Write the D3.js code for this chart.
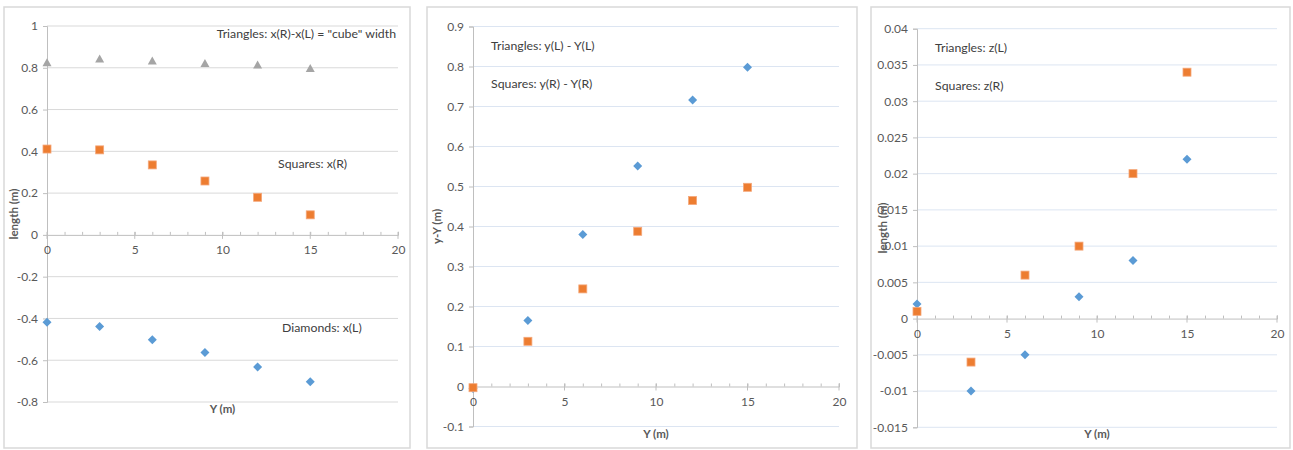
<!DOCTYPE html>
<html>
<head>
<meta charset="utf-8">
<script src="https://cdn.jsdelivr.net/npm/d3@7"></script>
<style>
body{margin:0;background:#fff;}
text{font-family:Lato,"Liberation Sans",sans-serif;}
</style>
</head>
<body>
<div id="chart"></div>
<script>
// x positions (Y in m), same for every panel
var yPos=[0,3,6,9,12,15];
var xTicks=[0,5,10,15,20];

// panel 1 : x coordinates
var cubeWidth=[0.824,0.842,0.833,0.82,0.813,0.797];
var xRight=[0.411,0.407,0.335,0.258,0.18,0.096];
var xLeft=[-0.418,-0.439,-0.502,-0.563,-0.632,-0.703];
var p1Ticks=[-0.8,-0.6,-0.4,-0.2,0,0.2,0.4,0.6,0.8,1];

// panel 2 : y - Y
var yLeftDiff=[-0.005,0.165,0.38,0.551,0.716,0.798];
var yRightDiff=[-0.003,0.113,0.244,0.388,0.465,0.498];
var p2Ticks=[-0.1,0,0.1,0.2,0.3,0.4,0.5,0.6,0.7,0.8,0.9];

// panel 3 : z
var zLeft=[0.002,-0.01,-0.005,0.003,0.008,0.022];
var zRight=[0.001,-0.006,0.006,0.01,0.02,0.034];
var p3Ticks=[-0.015,-0.01,-0.005,0,0.005,0.01,0.015,0.02,0.025,0.03,0.035,0.04];

var svg=d3.select("#chart").append("svg").attr("width",1293).attr("height",450);

var panels=[
	{frame:[4,7,406,441],x0:47,x1:398,yTop:26,yBot:402,ticks:p1Ticks,grid:"#d9d9d9",
	 ytitle:"length (m)",ytx:14,xty:413,
	 series:[{v:cubeWidth,shape:"tri"},{v:xRight,shape:"sq"},{v:xLeft,shape:"dia"}],
	 notes:[{t:"Triangles: x(R)-x(L) = \"cube\" width",x:396,y:38,a:"end"},{t:"Squares: x(R)",x:278,y:168,a:"start"},{t:"Diamonds: x(L)",x:282,y:332,a:"start"}]},
	{frame:[427,7,430,441],x0:473,x1:839,yTop:26.5,yBot:426.5,ticks:p2Ticks,grid:"#dce5f2",
	 ytitle:"y-Y (m)",ytx:437,xty:438,
	 series:[{v:yLeftDiff,shape:"dia"},{v:yRightDiff,shape:"sq"}],
	 notes:[{t:"Triangles: y(L) - Y(L)",x:491,y:50,a:"start"},{t:"Squares: y(R) - Y(R)",x:491,y:88,a:"start"}]},
	{frame:[871,7,419,441],x0:917,x1:1277,yTop:28.7,yBot:427.3,ticks:p3Ticks,grid:"#dce5f2",
	 ytitle:"length (m)",ytx:883,xty:438,
	 series:[{v:zLeft,shape:"dia"},{v:zRight,shape:"sq"}],
	 notes:[{t:"Triangles: z(L)",x:935,y:52,a:"start"},{t:"Squares: z(R)",x:935,y:90,a:"start"}]}
];

var colors={tri:"#a5a5a5",sq:"#ed7d31",dia:"#5b9bd5"};
var fmt=function(d){return String(+d.toFixed(4));};

panels.forEach(function(p){
	var g=svg.append("g");
	g.append("rect").attr("x",p.frame[0]).attr("y",p.frame[1]).attr("width",p.frame[2]).attr("height",p.frame[3])
		.attr("fill","#fff").attr("stroke","#d9d9d9").attr("stroke-width",1.5); //chart border

	var x=d3.scaleLinear().domain([0,20]).range([p.x0,p.x1]);
	var y=d3.scaleLinear().domain(d3.extent(p.ticks)).range([p.yBot,p.yTop]);

	// gridlines
	g.selectAll(".grid").data(p.ticks.filter(function(d){return d!==0;})).enter().append("line")
		.attr("x1",x(0)).attr("x2",x(20)).attr("y1",function(d){return y(d);}).attr("y2",function(d){return y(d);})
		.attr("stroke",p.grid).attr("stroke-width",1);

	// y axis
	var ya=g.append("g").attr("transform","translate("+x(0)+",0)")
		.call(d3.axisLeft(y).tickValues(p.ticks).tickFormat(fmt).tickSize(4).tickPadding(5));
	ya.select(".domain").attr("stroke","#bfbfbf");
	ya.selectAll(".tick line").attr("stroke","#bfbfbf");
	ya.selectAll(".tick text").attr("fill","#595959").style("font-size","12px").style("font-family","Lato,'Liberation Sans',sans-serif");

	// x axis on the zero line, minor ticks each unit
	var xa=g.append("g").attr("transform","translate(0,"+y(0)+")")
		.call(d3.axisBottom(x).tickValues(d3.range(0,21)).tickSize(-3).tickPadding(11)
			.tickFormat(function(d){return d%5===0?d:"";}));
	xa.select(".domain").attr("stroke","#bfbfbf");
	xa.selectAll(".tick line").attr("stroke","#bfbfbf");
	xa.selectAll(".tick text").attr("fill","#595959").style("font-size","12px").style("font-family","Lato,'Liberation Sans',sans-serif");
	xa.selectAll(".major").data(xTicks).enter().append("line")
		.attr("x1",function(d){return x(d);}).attr("x2",function(d){return x(d);})
		.attr("y1",-3).attr("y2",4).attr("stroke","#bfbfbf");

	// titles
	g.append("text").attr("x",(p.x0+p.x1)/2).attr("y",p.xty).attr("text-anchor","middle")
		.attr("font-size",11.5).attr("font-weight","bold").attr("fill","#595959").text("Y (m)");
	g.append("text").attr("transform","translate("+p.ytx+","+(p.yTop+p.yBot)/2+") rotate(-90)")
		.attr("text-anchor","middle").attr("dy","0.35em")
		.attr("font-size",11.5).attr("font-weight","bold").attr("fill","#595959").text(p.ytitle);

	// notes
	p.notes.forEach(function(n){
		g.append("text").attr("x",n.x).attr("y",n.y).attr("text-anchor",n.a)
			.attr("font-size",12.3).attr("fill","#404040").text(n.t);
	});

	// markers
	p.series.forEach(function(s){
		var pts=yPos.map(function(d,i){return [x(d),y(s.v[i])];});
		var sel=g.selectAll(".m").data(pts).enter();
		if(s.shape==="sq"){
			sel.append("rect").attr("x",function(d){return d[0]-4;}).attr("y",function(d){return d[1]-4;})
				.attr("width",8).attr("height",8).attr("fill",colors.sq).attr("stroke","#f4a77a").attr("stroke-width",0.8);
		} else if(s.shape==="dia"){
			sel.append("path").attr("d",function(d){return "M"+d[0]+","+(d[1]-4.5)+"L"+(d[0]+4.5)+","+d[1]+"L"+d[0]+","+(d[1]+4.5)+"L"+(d[0]-4.5)+","+d[1]+"Z";})
				.attr("fill",colors.dia);
		} else {
			sel.append("path").attr("d",function(d){return "M"+d[0]+","+(d[1]-4.5)+"L"+(d[0]+4.5)+","+(d[1]+3.5)+"L"+(d[0]-4.5)+","+(d[1]+3.5)+"Z";})
				.attr("fill",colors.tri);
		}
	});
});
</script>
</body>
</html>
